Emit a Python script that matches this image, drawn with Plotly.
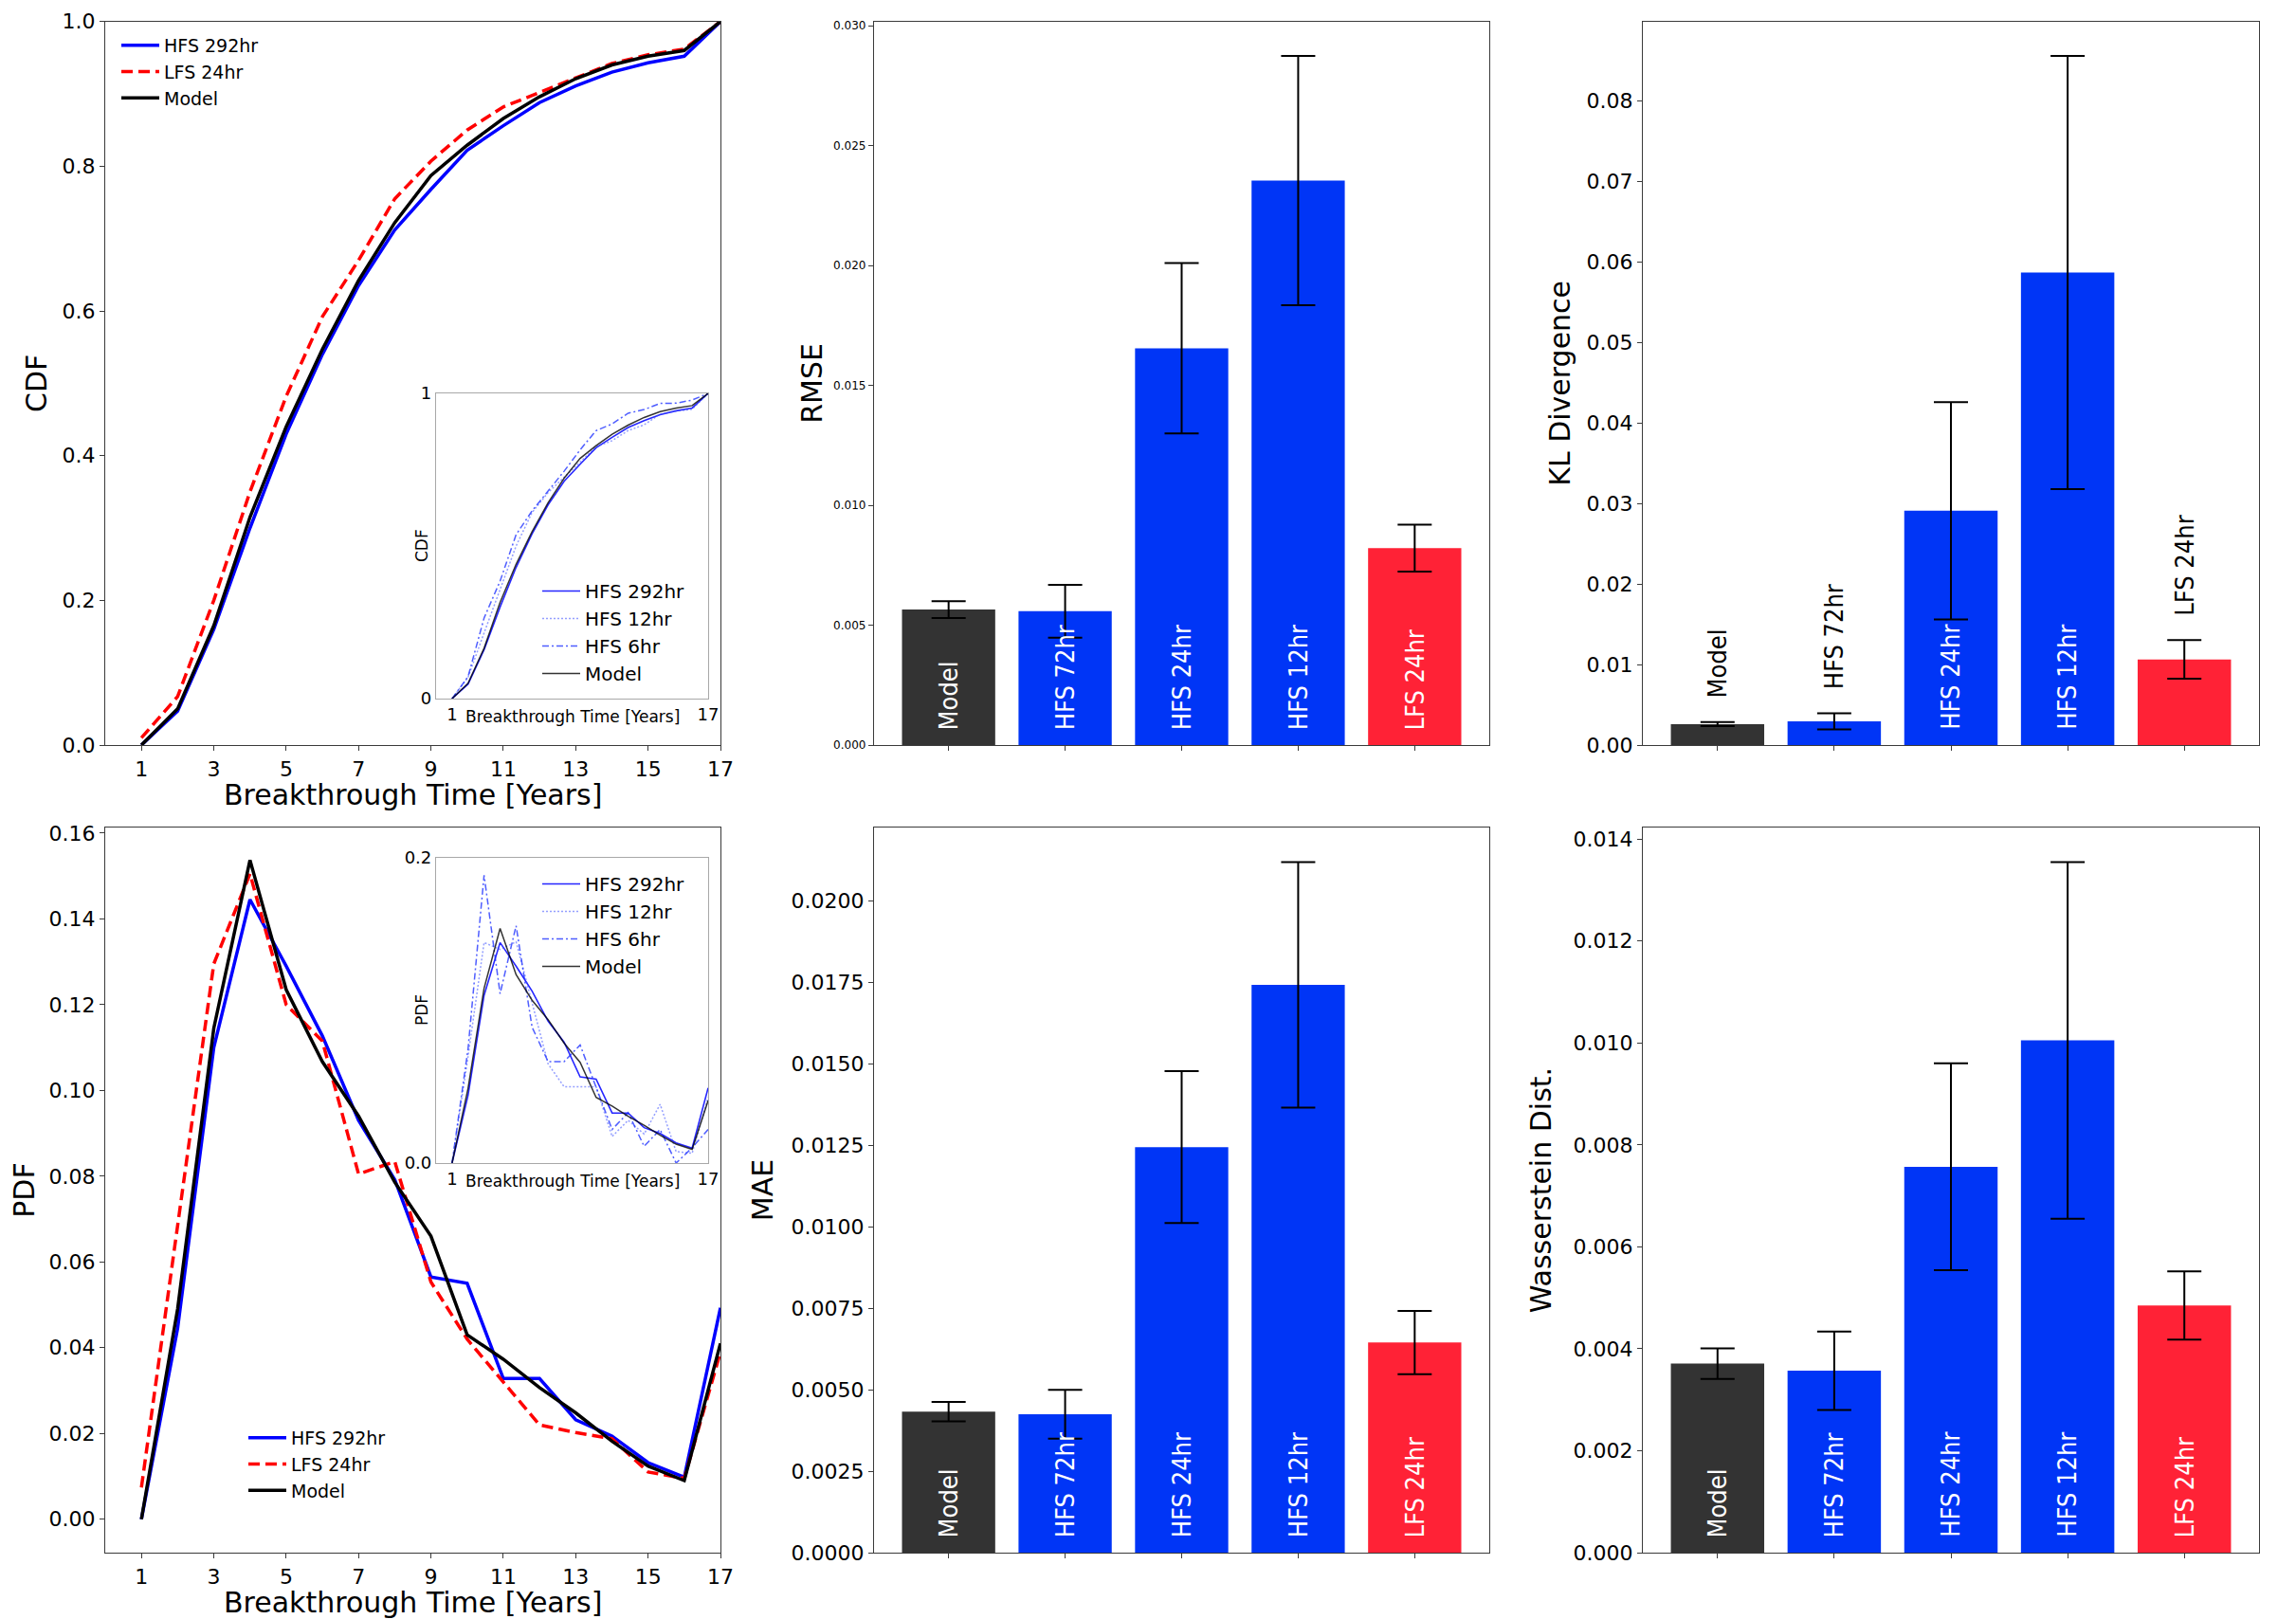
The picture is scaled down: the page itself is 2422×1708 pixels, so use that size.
import plotly.graph_objects as go

# ---- data ----
years = list(range(1, 18))

cdf_hfs292 = [0.0, 0.047, 0.16, 0.30, 0.43, 0.54, 0.635, 0.712, 0.768, 0.822, 0.856, 0.888, 0.911, 0.93, 0.943, 0.952, 1.0]
cdf_lfs24 = [0.01, 0.067, 0.2, 0.35, 0.482, 0.592, 0.67, 0.755, 0.807, 0.85, 0.882, 0.902, 0.923, 0.942, 0.954, 0.962, 1.0]
cdf_model = [0.0, 0.05, 0.165, 0.315, 0.44, 0.547, 0.642, 0.722, 0.787, 0.829, 0.866, 0.896, 0.921, 0.94, 0.952, 0.96, 1.0]
cdf_hfs12 = [0.0, 0.07, 0.215, 0.355, 0.5, 0.61, 0.675, 0.725, 0.775, 0.825, 0.845, 0.878, 0.897, 0.932, 0.942, 0.948, 1.0]
cdf_hfs6 = [0.0, 0.072, 0.264, 0.385, 0.537, 0.615, 0.68, 0.745, 0.815, 0.878, 0.9, 0.935, 0.947, 0.967, 0.968, 0.978, 1.0]

pdf_hfs292 = [0.0, 0.0445, 0.110, 0.1445, 0.129, 0.1127, 0.093, 0.0792, 0.0565, 0.055, 0.0328, 0.0328, 0.0232, 0.0194, 0.0132, 0.0098, 0.0493]
pdf_lfs24 = [0.0074, 0.068, 0.1295, 0.1505, 0.12, 0.1115, 0.0805, 0.0834, 0.0553, 0.042, 0.032, 0.022, 0.0202, 0.0188, 0.011, 0.0095, 0.039]
pdf_model = [0.0, 0.049, 0.1145, 0.1537, 0.1235, 0.1067, 0.094, 0.0786, 0.066, 0.043, 0.0373, 0.0307, 0.0248, 0.0182, 0.0124, 0.009, 0.041]
pdf_hfs12 = [0.0, 0.07, 0.1445, 0.14, 0.145, 0.105, 0.065, 0.05, 0.05, 0.05, 0.0174, 0.028, 0.019, 0.0385, 0.0075, 0.0064, 0.043]
pdf_hfs6 = [0.0, 0.075, 0.1886, 0.111, 0.1555, 0.089, 0.0665, 0.0665, 0.0774, 0.05, 0.022, 0.033, 0.011, 0.022, 0.0, 0.01, 0.022]

year_ticks = [1, 3, 5, 7, 9, 11, 13, 15, 17]

models = ["Model", "HFS 72hr", "HFS 24hr", "HFS 12hr", "LFS 24hr"]

rmse = [0.00565, 0.00558, 0.01655, 0.02354, 0.00821]
rmse_err = [0.00035, 0.0011, 0.00355, 0.0052, 0.00098]
kl = [0.0026, 0.00293, 0.0291, 0.0587, 0.01064]
kl_err = [0.00025, 0.001, 0.0135, 0.0269, 0.0024]
mae = [0.00433, 0.00425, 0.01245, 0.01743, 0.00645]
mae_err = [0.0003, 0.00075, 0.00233, 0.00377, 0.00097]
wass = [0.00371, 0.00357, 0.00757, 0.01005, 0.00485]
wass_err = [0.0003, 0.00077, 0.00203, 0.0035, 0.00067]

# ---- styling ----
# the page body keeps its 8px margin: the figure starts 8px in and runs to the window bottom
OFF = 8
W, H = 2422 - 2 * OFF, 1708 - OFF
FONT = "DejaVu Sans"
LABEL_FONT = "DejaVu Sans Condensed, Liberation Sans Narrow, Open Sans"
BAR_COLORS = ["#333333", "#0035f6", "#0035f6", "#0035f6", "#ff2236"]
SPINE = "#3a3a3a"


def fx(a, b):
    return ((a - OFF) / W, (b - OFF) / W)


def fy(top, bottom):
    return (1 - (bottom - OFF) / H, 1 - (top - OFF) / H)


col_x = [fx(111, 760), fx(922, 1571), fx(1733, 2383)]
row_y = [fy(22.7, 786), fy(873, 1638)]

fig = go.Figure()


def main_axis(n, col, row):
    common = dict(showline=True, mirror=True, linecolor=SPINE, linewidth=1.3, automargin=False,
                  ticks="outside", ticklen=5, tickwidth=1.3, tickcolor=SPINE, showgrid=False,
                  zeroline=False, tickfont=dict(size=22, color="black"))
    xa = dict(common, domain=col_x[col], anchor="y%s" % n)
    ya = dict(common, domain=row_y[row], anchor="x%s" % n)
    return xa, ya


layout = dict(width=W, height=H, margin=dict(l=0, r=0, t=0, b=0, autoexpand=False),
              paper_bgcolor="white", plot_bgcolor="white",
              font=dict(family=FONT, color="black"), showlegend=True)

annotations = []

# CDF (top left) and PDF (bottom left)
for n, row, ytitle, yr, dt, fmt, stand in [("", 0, "CDF", [0, 1.0], 0.2, ".1f", 6),
                                           ("4", 1, "PDF", [-0.0078, 0.1613], 0.02, ".2f", 5)]:
    xa, ya = main_axis(n, 0, row)
    xa.update(range=[0, 17], tickvals=year_ticks)
    ya.update(range=yr, dtick=dt, tick0=0, tickformat=fmt,
              title=dict(text=ytitle, font=dict(size=30), standoff=stand))
    layout["xaxis" + n] = xa
    layout["yaxis" + n] = ya
    annotations.append(dict(x=0.5, y=0, xref="x%s domain" % n, yref="y%s domain" % n,
                            text="Breakthrough Time [Years]", showarrow=False, yanchor="middle",
                            yshift=-52, font=dict(size=30)))

# bar panels
bar_panels = [("2", 0, 1, "RMSE", rmse, rmse_err, 0.005, ".3f", 12, 2),
              ("3", 0, 2, "KL Divergence", kl, kl_err, 0.01, ".2f", 22, 7),
              ("5", 1, 1, "MAE", mae, mae_err, 0.0025, ".4f", 22, 9),
              ("6", 1, 2, "Wasserstein Dist.", wass, wass_err, 0.002, ".3f", 22, 13)]

for n, row, col, ytitle, vals, errs, dt, fmt, tsize, stand in bar_panels:
    top = max(v + e for v, e in zip(vals, errs)) * 1.05
    xa, ya = main_axis(n, col, row)
    xa.update(type="linear", range=[-0.64, 4.64], tickvals=list(range(len(models))),
              ticktext=["" for _ in models])
    ya.update(range=[0, top], dtick=dt, tick0=0, tickformat=fmt, tickfont=dict(size=tsize),
              title=dict(text=ytitle, font=dict(size=30), standoff=stand))
    layout["xaxis" + n] = xa
    layout["yaxis" + n] = ya
    fig.add_trace(go.Bar(x=list(range(len(models))), y=vals, width=0.8,
                         marker=dict(color=BAR_COLORS, line=dict(width=0)),
                         error_y=dict(type="data", array=errs, color="black", thickness=2, width=18),
                         showlegend=False, xaxis="x" + n, yaxis="y" + n))
    for i, m in enumerate(models):
        outside = ytitle == "KL Divergence" and i in (0, 1, 4)
        ypos = vals[i] + errs[i] + 0.031 * top if outside else 0.018 * top
        annotations.append(dict(x=i, y=ypos, xref="x" + n, yref="y" + n, text=m, showarrow=False,
                                textangle=-90, xanchor="center", yanchor="bottom",
                                font=dict(family=LABEL_FONT, size=27,
                                          color="black" if outside else "white")))

# main line traces
for n, series, leg in [("", [cdf_hfs292, cdf_lfs24, cdf_model], "legend"),
                       ("4", [pdf_hfs292, pdf_lfs24, pdf_model], "legend2")]:
    names = ["HFS 292hr", "LFS 24hr", "Model"]
    styles = [dict(color="#0000ff", width=3.5), dict(color="#ff0000", width=3.5, dash="12px,6px"),
              dict(color="black", width=3.5)]
    for s, nm, st in zip(series, names, styles):
        fig.add_trace(go.Scatter(x=years, y=s, mode="lines", name=nm, line=st, legend=leg,
                                 xaxis="x" + n, yaxis="y" + n))

# insets
inset_x = fx(460, 747)
inset_y = [fy(415, 737), fy(905, 1227)]
for n, (y0, y1), ytitle, yr, fmt, series, leg in [
        ("7", inset_y[0], "CDF", [0, 1], "d", [cdf_hfs292, cdf_hfs12, cdf_hfs6, cdf_model], "legend3"),
        ("8", inset_y[1], "PDF", [0, 0.2], ".1f", [pdf_hfs292, pdf_hfs12, pdf_hfs6, pdf_model], "legend4")]:
    inset_common = dict(showline=True, mirror=True, linecolor="#a8a8a8", linewidth=1.2, automargin=False,
                        ticks="", showgrid=False, zeroline=False, tickfont=dict(size=18, color="black"))
    layout["xaxis" + n] = dict(inset_common, domain=inset_x, range=[0, 17], tickvals=[1, 17],
                               anchor="y" + n)
    layout["yaxis" + n] = dict(inset_common, domain=[y0, y1], range=yr, tickvals=yr, tickformat=fmt,
                               anchor="x" + n)
    annotations.append(dict(x=0.5, y=0, xref="x%s domain" % n, yref="y%s domain" % n,
                            text="Breakthrough Time [Years]", showarrow=False, yanchor="top",
                            yshift=-7, font=dict(size=17)))
    annotations.append(dict(x=0, y=0.5, xref="x%s domain" % n, yref="y%s domain" % n,
                            text=ytitle, showarrow=False, textangle=-90, xanchor="right",
                            xshift=-3, font=dict(size=17)))
    names = ["HFS 292hr", "HFS 12hr", "HFS 6hr", "Model"]
    styles = [dict(color="rgba(0,0,255,0.85)", width=1.6),
              dict(color="rgba(60,80,255,0.55)", width=1.5, dash="2px,2px"),
              dict(color="rgba(20,40,255,0.75)", width=1.5, dash="7px,3px,2px,3px"),
              dict(color="rgba(0,0,0,0.8)", width=1.5)]
    for s, nm, st in zip(series, names, styles):
        fig.add_trace(go.Scatter(x=years, y=s, mode="lines", name=nm, line=st, legend=leg,
                                 xaxis="x" + n, yaxis="y" + n))

legend_common = dict(bgcolor="rgba(0,0,0,0)", borderwidth=0, itemwidth=40,
                     xanchor="left", yanchor="top", tracegroupgap=0)
layout["legend"] = dict(legend_common, x=fx(123, 0)[0], y=fy(29, 0)[1], font=dict(size=19))
layout["legend2"] = dict(legend_common, x=fx(257, 0)[0], y=fy(1498, 0)[1], font=dict(size=19))
layout["legend3"] = dict(legend_common, x=fx(567, 0)[0], y=fy(604, 0)[1], font=dict(size=20))
layout["legend4"] = dict(legend_common, x=fx(567, 0)[0], y=fy(913, 0)[1], font=dict(size=20))
layout["annotations"] = annotations

fig.update_layout(layout)
fig.write_html("out.html")
